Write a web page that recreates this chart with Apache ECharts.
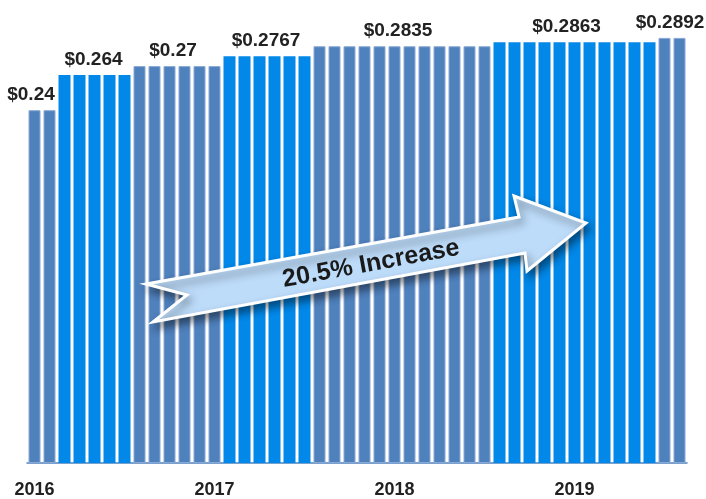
<!DOCTYPE html>
<html>
<head>
<meta charset="utf-8">
<script src="https://cdn.jsdelivr.net/npm/echarts@6/dist/echarts.min.js"></script>
<style>
  html, body { margin: 0; padding: 0; background: #fff; }
  #chart { width: 706px; height: 499px; }
</style>
</head>
<body>
<div id="chart"></div>
<script>
// monthly rate, Jan 2016 .. Aug 2019
const months = [
  '2016-01','2016-02','2016-03','2016-04','2016-05','2016-06','2016-07','2016-08','2016-09','2016-10','2016-11','2016-12',
  '2017-01','2017-02','2017-03','2017-04','2017-05','2017-06','2017-07','2017-08','2017-09','2017-10','2017-11','2017-12',
  '2018-01','2018-02','2018-03','2018-04','2018-05','2018-06','2018-07','2018-08','2018-09','2018-10','2018-11','2018-12',
  '2019-01','2019-02','2019-03','2019-04','2019-05','2019-06','2019-07','2019-08'
]
const prices = [
  0.24, 0.24,
  0.264, 0.264, 0.264, 0.264, 0.264,
  0.27, 0.27, 0.27, 0.27, 0.27, 0.27,
  0.2767, 0.2767, 0.2767, 0.2767, 0.2767, 0.2767,
  0.2835, 0.2835, 0.2835, 0.2835, 0.2835, 0.2835, 0.2835, 0.2835, 0.2835, 0.2835, 0.2835, 0.2835,
  0.2863, 0.2863, 0.2863, 0.2863, 0.2863, 0.2863, 0.2863, 0.2863, 0.2863, 0.2863, 0.2863,
  0.2892, 0.2892
]
const rateSteps = [0.24, 0.264, 0.27, 0.2767, 0.2835, 0.2863, 0.2892]
const yearLabels = ['2016', '2017', '2018', '2019']
const increaseText = '20.5% Increase'

const DARK = '#4F81BD'
const BRIGHT = '#0288E8'
// small nudges so the price labels sit like the original
const labelShift = [-11, -1, -4, -1, -4, -8, -2]

const barData = prices.map(v => {
  const odd = rateSteps.indexOf(v) % 2 === 1
  return {
    value: v,
    itemStyle: odd
      ? { color: BRIGHT, borderWidth: 0 }
      : { color: DARK, borderColor: '#8AA8D6', borderWidth: 1 }
  }
})

// label points at the centre of each rate period
const labelData = rateSteps.map((r, i) => {
  const first = prices.indexOf(r)
  const last = prices.lastIndexOf(r)
  return {
    value: [(first + last + 1) / 2, r],
    label: { offset: [labelShift[i], 0] }
  }
})

const chart = echarts.init(document.getElementById('chart'))
chart.setOption({
  animation: false,
  grid: { left: 27, right: 19, top: 22, bottom: 36 },
  xAxis: [
    {
      type: 'category',
      data: months,
      boundaryGap: true,
      axisLine: { lineStyle: { color: DARK, width: 1.5 } },
      axisTick: {
        interval: (i) => i % 12 === 0,
        length: 7,
        lineStyle: { color: DARK, width: 1.5 }
      },
      axisLabel: {
        interval: (i) => i % 12 === 0,
        formatter: (v) => yearLabels[yearLabels.indexOf(v.slice(0, 4))],
        fontFamily: 'Liberation Sans',
        fontWeight: 'bold',
        fontSize: 18,
        color: '#222',
        margin: 18
      }
    },
    { type: 'value', min: 0, max: months.length, show: false }
  ],
  yAxis: { type: 'value', min: 0, max: 0.3, show: false },
  series: [
    {
      type: 'bar',
      data: barData,
      barCategoryGap: '20%'
    },
    {
      type: 'scatter',
      xAxisIndex: 1,
      symbolSize: 0,
      itemStyle: { opacity: 1 },
      data: labelData,
      z: 5,
      label: {
        show: true,
        position: 'top',
        distance: 6,
        formatter: (p) => '$' + p.value[1],
        fontFamily: 'Liberation Sans',
        fontWeight: 'bold',
        fontSize: 19,
        color: '#222'
      }
    }
  ],
  graphic: [
    {
      type: 'polygon',
      z: 100,
      shape: {
        points: [
          [146, 284], [519, 217], [514, 196], [586, 223],
          [527, 271], [525, 253], [153, 322], [187, 295]
        ]
      },
      style: {
        fill: '#BDDCFA',
        stroke: '#fff',
        lineWidth: 3,
        shadowBlur: 8,
        shadowOffsetX: 3,
        shadowOffsetY: 5,
        shadowColor: 'rgba(0,0,0,0.45)'
      }
    },
    {
      type: 'text',
      z: 101,
      x: 371,
      y: 264,
      rotation: 0.183,
      style: {
        text: increaseText,
        fontFamily: 'Liberation Sans',
        fontWeight: 'bold',
        fontSize: 25,
        fill: '#1a1a1a',
        align: 'center',
        verticalAlign: 'middle'
      }
    }
  ]
})
</script>
</body>
</html>
